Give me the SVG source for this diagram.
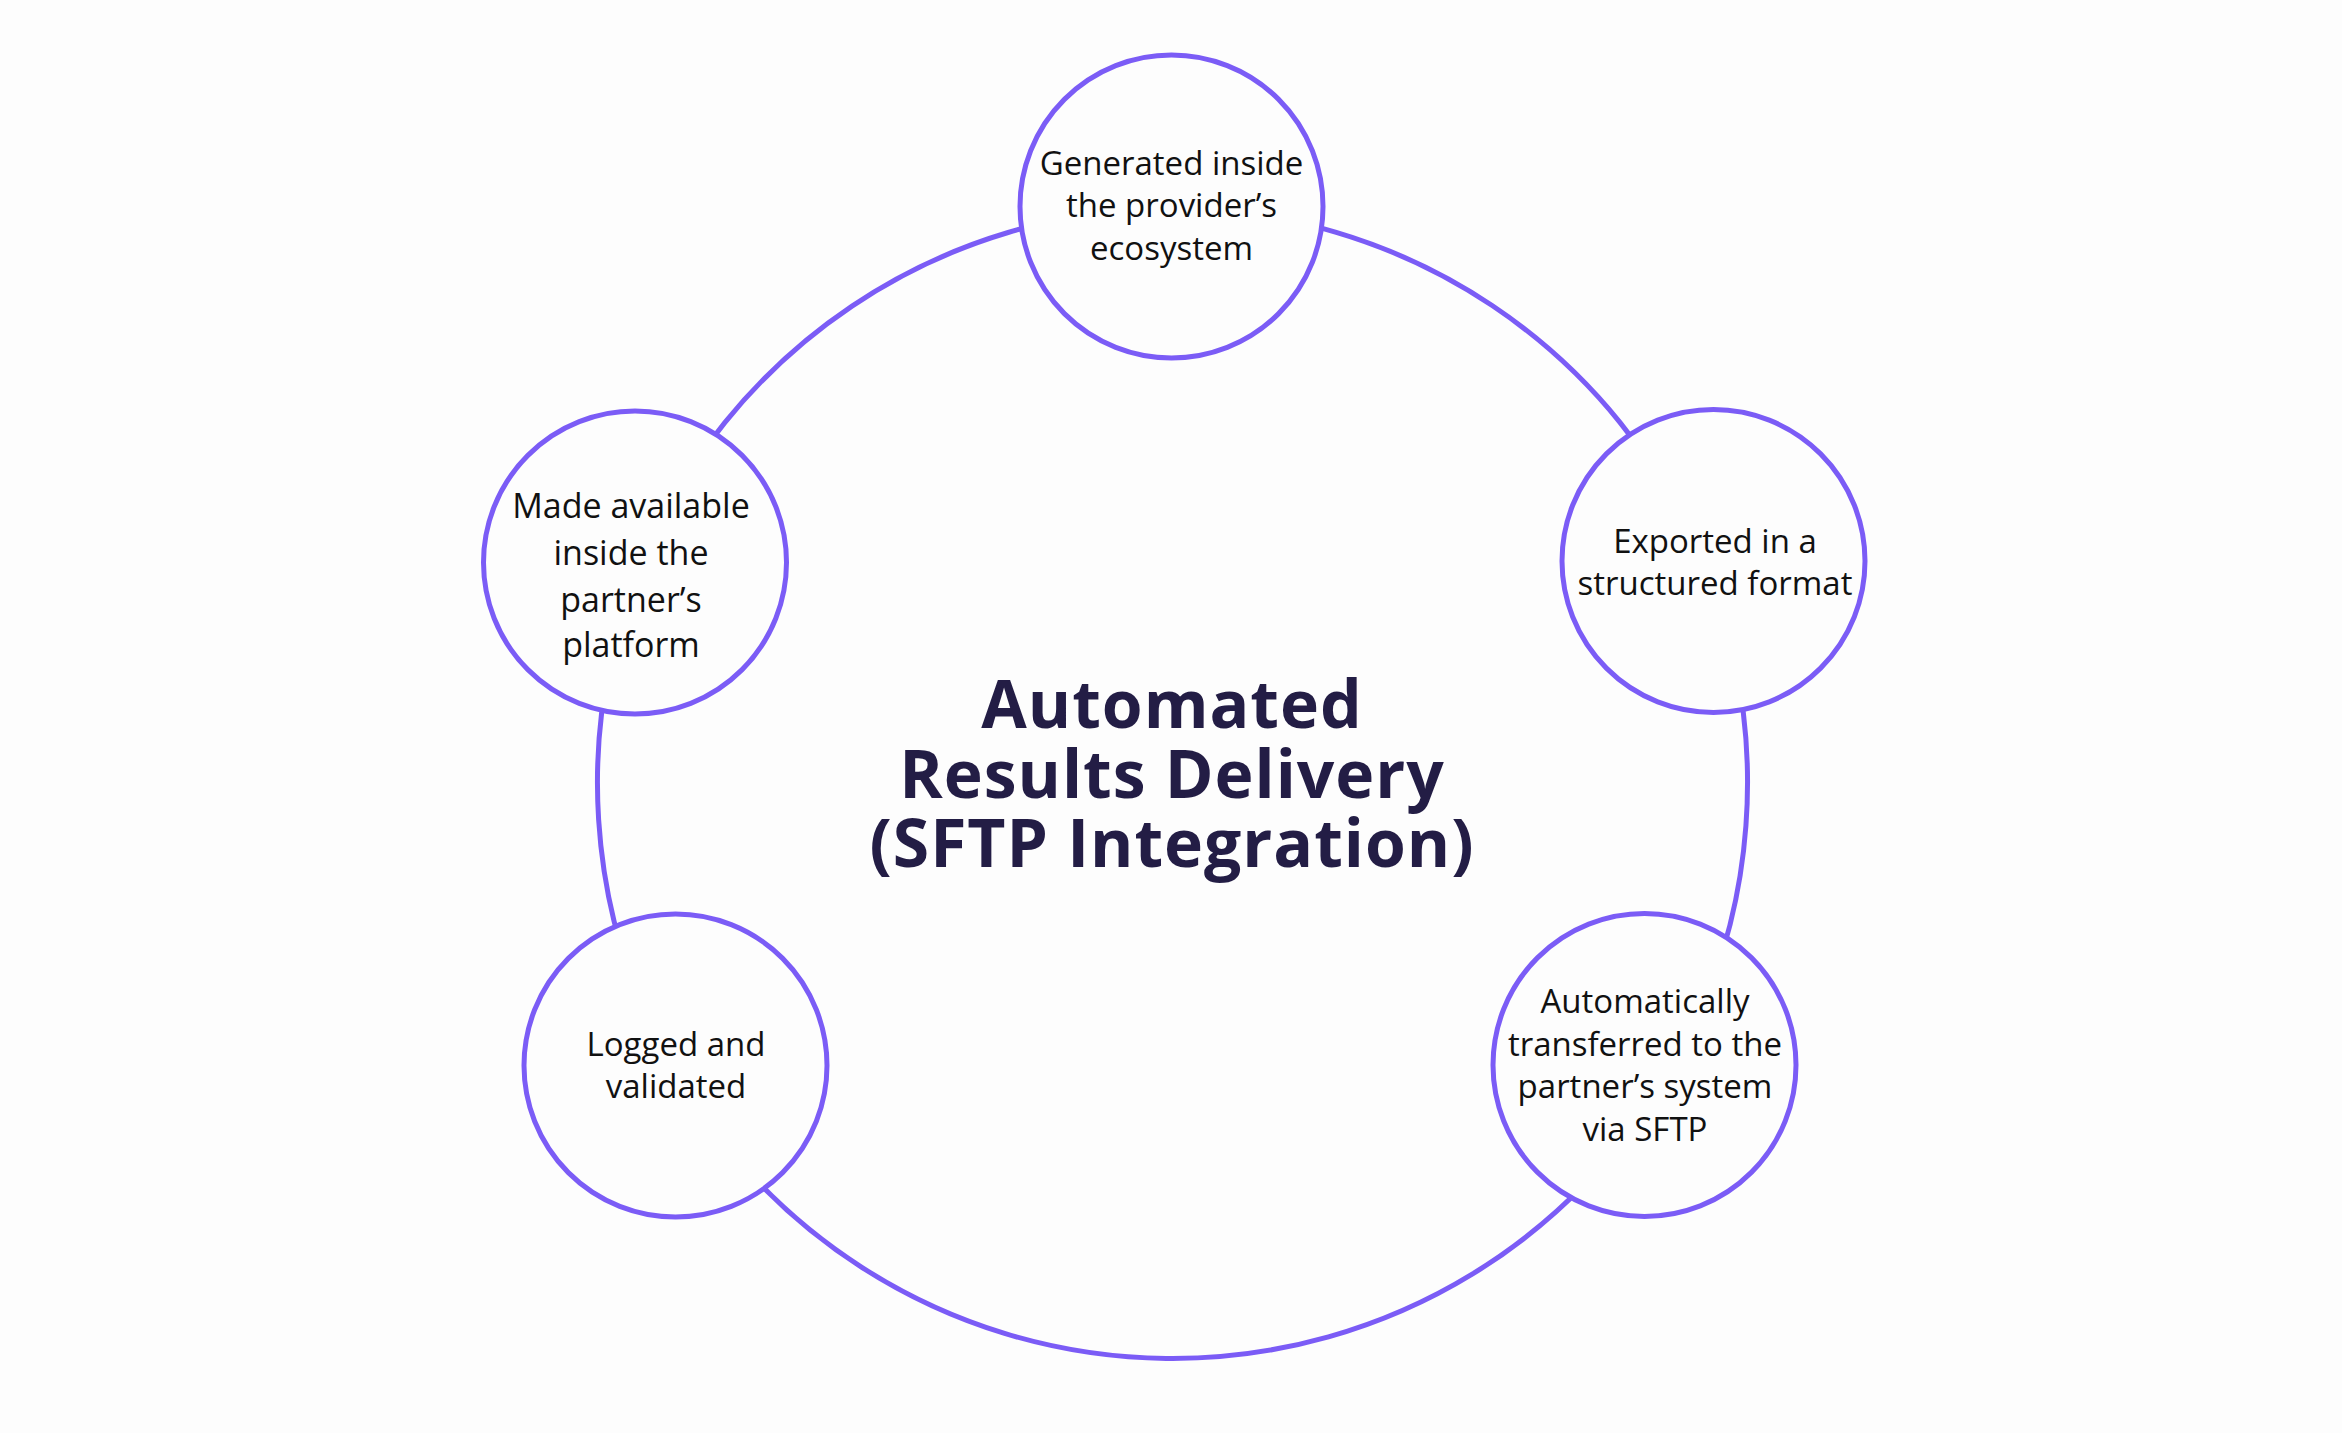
<svg xmlns="http://www.w3.org/2000/svg" width="2342" height="1433" viewBox="0 0 2342 1433">
<style>
.ring{fill:none;stroke:#7b5cf6;stroke-width:5}
.node{fill:#fdfdfd;stroke:#7b5cf6;stroke-width:5}
.lbl{font-family:"Open Sans","Liberation Sans",sans-serif;font-size:33px;font-weight:500;fill:#111111;text-anchor:middle}
.title{font-family:"Open Sans","Liberation Sans",sans-serif;font-size:66px;font-weight:700;letter-spacing:1px;fill:#231d45;text-anchor:middle}
</style>
<rect width="2342" height="1433" fill="#fdfdfd"/>
<g id="connectors">
<path class="ring" d="M 1171.5 208.5 A 575 575 0 0 1 1704.3 564.8"/>
<path class="ring" d="M 1704.3 564.8 A 575 575 0 0 1 1666.3 1078"/>
<path class="ring" d="M 1666.3 1078 A 575 575 0 0 1 672.4 1067.3"/>
<path class="ring" d="M 672.4 1067.3 A 575 575 0 0 1 640.7 564.8"/>
<path class="ring" d="M 640.7 564.8 A 575 575 0 0 1 1171.5 208.5"/>
</g>
<g id="title">
<text class="title" x="1172" y="728">Automated</text>
<text class="title" x="1172" y="798">Results Delivery</text>
<text class="title" x="1172" y="867">(SFTP Integration)</text>
</g>
<g id="node-generated">
<circle class="node" cx="1171.5" cy="206.5" r="151.5"/>
<text class="lbl" x="1171.5" y="175">Generated inside</text>
<text class="lbl" x="1171.5" y="217">the provider’s</text>
<text class="lbl" x="1171.5" y="260">ecosystem</text>
</g>
<g id="node-exported">
<circle class="node" cx="1713.5" cy="561" r="151.5"/>
<text class="lbl" x="1715" y="553">Exported in a</text>
<text class="lbl" x="1715" y="595">structured format</text>
</g>
<g id="node-transferred">
<circle class="node" cx="1644.5" cy="1065" r="151.5"/>
<text class="lbl" x="1645" y="1013">Automatically</text>
<text class="lbl" x="1645" y="1056">transferred to the</text>
<text class="lbl" x="1645" y="1098">partner’s system</text>
<text class="lbl" x="1645" y="1141">via SFTP</text>
</g>
<g id="node-logged">
<circle class="node" cx="675.5" cy="1065.5" r="151.5"/>
<text class="lbl" x="676" y="1056">Logged and</text>
<text class="lbl" x="676" y="1098">validated</text>
</g>
<g id="node-available">
<circle class="node" cx="635" cy="562.5" r="151.5"/>
<text class="lbl" x="631" y="518" style="font-size:34px">Made available</text>
<text class="lbl" x="631" y="565" style="font-size:34px">inside the</text>
<text class="lbl" x="631" y="612" style="font-size:34px">partner’s</text>
<text class="lbl" x="631" y="657" style="font-size:34px">platform</text>
</g>
</svg>
